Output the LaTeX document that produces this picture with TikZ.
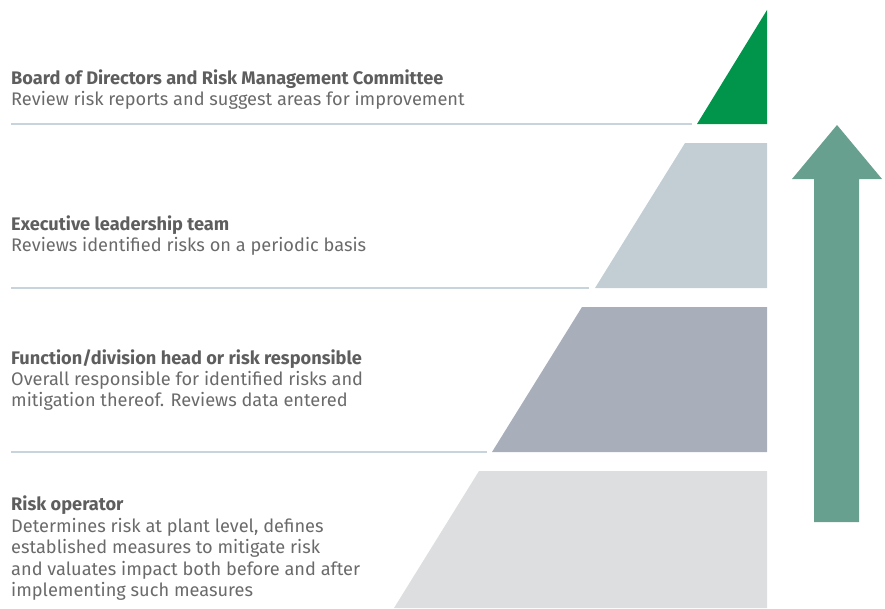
\documentclass[tikz,border=0pt]{standalone}
\usepackage{fontspec}
\setmainfont{Fira Sans}
\definecolor{txt}{HTML}{5E5E5E}
\definecolor{bodytxt}{HTML}{6A6A6A}
\definecolor{sep}{HTML}{C8D4DC}
\definecolor{tierA}{HTML}{00954B}
\definecolor{tierB}{HTML}{C2CED4}
\definecolor{tierC}{HTML}{A8AEBA}
\definecolor{tierD}{HTML}{DCDEE0}
\definecolor{arrowc}{HTML}{68A08F}
\begin{document}
\begin{tikzpicture}[x=1pt,y=-1pt,
  title/.style={anchor=base west,inner sep=0pt,font=\fontsize{18.2}{21}\selectfont\bfseries,text=txt},
  body/.style={anchor=base west,inner sep=0pt,font=\fontsize{18.2}{21}\selectfont,text=bodytxt},
  sepline/.style={draw=sep,line width=1.4pt}]
\useasboundingbox (0,0) rectangle (885,608);
% tiers
\fill[tierA] (767,10) -- (767,124) -- (697,124) -- cycle;
\fill[tierB] (685,143) -- (767,143) -- (767,288) -- (595,288) -- cycle;
\fill[tierC] (582,307) -- (767,307) -- (767,452) -- (492,452) -- cycle;
\fill[tierD] (479,471) -- (767,471) -- (767,608) -- (394,608) -- cycle;
% separators
\coordinate (s1a) at (11,124); \coordinate (s1b) at (692,124);
\coordinate (s2a) at (11,288); \coordinate (s2b) at (589,288);
\coordinate (s3a) at (11,452); \coordinate (s3b) at (487,452);
\draw[sepline] (s1a) -- (s1b);
\draw[sepline] (s2a) -- (s2b);
\draw[sepline] (s3a) -- (s3b);
% arrow
\fill[arrowc] (814,522) -- (814,179) -- (792,179) -- (837,125) -- (882,179) -- (859,179) -- (859,522) -- cycle;
% texts
\node[title] (t1) at (11,84.5) {Board of Directors and Risk Management Committee};
\node[body] (b1) at (11,105) {Review risk reports and suggest areas for improvement};
\node[title] (t2) at (11,230.5) {Executive leadership team};
\node[body] (b2) at (11,251) {Reviews identified risks on a periodic basis};
\node[title] (t3) at (11,364) {Function/division head or risk responsible};
\node[body] (b3a) at (11,385) {Overall responsible for identified risks and};
\node[body] (b3b) at (11,406) {mitigation thereof. Reviews data entered};
\node[title] (t4) at (11,510.5) {Risk operator};
\node[body] (b4a) at (11,532) {Determines risk at plant level, defines};
\node[body] (b4b) at (11,553.5) {established measures to mitigate risk};
\node[body] (b4c) at (11,575) {and valuates impact both before and after};
\node[body] (b4d) at (11,596.5) {implementing such measures};
\end{tikzpicture}
\end{document}
